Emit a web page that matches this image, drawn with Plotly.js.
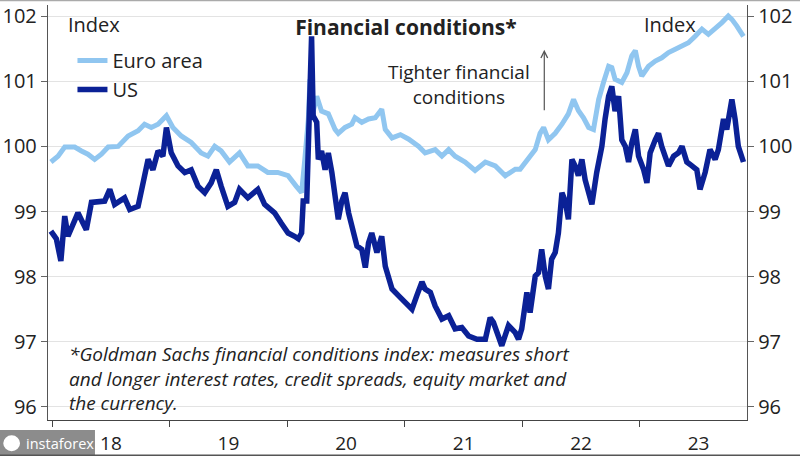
<!DOCTYPE html>
<html>
<head>
<meta charset="utf-8">
<script src="https://cdn.plot.ly/plotly-3.0.1.min.js"></script>
<style>html,body{margin:0;padding:0;background:#fff;}#chart{width:800px;height:456px;}</style>
</head>
<body>
<div id="chart"></div>
<script>
// Time as decimal years, values = index level
const euroT = [2017.99,2018.051,2018.108,2018.193,2018.250,2018.306,2018.363,2018.420,2018.477,2018.562,2018.647,2018.732,2018.789,2018.845,2018.902,2018.973,2019.030,2019.101,2019.186,2019.271,2019.328,2019.384,2019.441,2019.512,2019.597,2019.668,2019.753,2019.838,2019.923,2020.009,2020.079,
2020.125,2020.153,2020.182,2020.196,2020.224,2020.253,2020.295,2020.352,2020.409,2020.437,2020.494,2020.550,2020.579,2020.636,2020.692,2020.749,2020.806,2020.834,2020.891,2020.962,2021.033,2021.118,2021.174,2021.260,2021.316,2021.373,2021.430,2021.515,2021.600,2021.685,2021.770,2021.855,2021.940,
2021.983,2022.026,2022.068,2022.111,2022.153,2022.182,2022.224,2022.281,2022.338,2022.394,2022.437,2022.479,2022.522,2022.565,2022.607,2022.650,2022.692,2022.735,2022.763,2022.791,2022.848,2022.891,2022.933,2022.962,2022.990,2023.018,2023.075,2023.132,2023.189,2023.245,2023.302,2023.359,2023.416,2023.472,2023.529,2023.586,2023.643,2023.699,2023.756,2023.784,2023.827,2023.884];
const euroV = [99.76,99.85,99.99,99.99,99.93,99.88,99.80,99.88,99.99,100.0,100.16,100.24,100.34,100.29,100.34,100.47,100.29,100.16,100.06,99.90,99.85,100.0,99.93,99.76,99.90,99.70,99.70,99.60,99.60,99.55,99.39,
99.29,99.80,100.42,101.03,100.54,100.77,100.54,100.50,100.26,100.20,100.29,100.34,100.44,100.37,100.42,100.44,100.57,100.26,100.13,100.18,100.11,100.0,99.90,99.95,99.85,99.95,99.85,99.76,99.63,99.76,99.70,99.55,99.65,
99.65,99.76,99.85,99.95,100.20,100.29,100.10,100.20,100.34,100.50,100.72,100.55,100.44,100.29,100.26,100.72,100.98,101.23,101.21,101.03,100.98,101.13,101.39,101.47,101.23,101.08,101.23,101.31,101.36,101.44,101.49,101.55,101.59,101.69,101.80,101.72,101.80,101.90,102.0,101.95,101.85,101.69];

const usT = [2017.99,2018.037,2018.074,2018.108,2018.136,2018.179,2018.221,2018.250,2018.292,2018.335,2018.391,2018.448,2018.491,2018.533,2018.618,2018.661,2018.732,2018.774,2018.817,2018.860,2018.902,2018.945,2018.973,2019.016,2019.072,2019.129,2019.186,2019.243,2019.299,2019.356,2019.399,2019.441,2019.498,2019.555,2019.597,2019.668,2019.753,2019.810,2019.895,2019.952,2020.009,2020.065,
2020.096,2020.125,2020.139,2020.167,2020.182,2020.196,2020.210,2020.224,2020.253,2020.267,2020.295,2020.323,2020.352,2020.380,2020.409,2020.437,2020.465,2020.494,2020.522,2020.550,2020.593,2020.636,2020.664,2020.692,2020.721,2020.763,2020.806,2020.834,2020.891,2020.948,2021.004,2021.061,2021.104,2021.146,2021.174,2021.217,2021.260,2021.316,2021.373,2021.430,2021.487,2021.543,2021.614,2021.685,2021.728,2021.756,2021.827,2021.884,2021.940,
2021.969,2021.997,2022.040,2022.068,2022.111,2022.139,2022.167,2022.196,2022.224,2022.252,2022.281,2022.309,2022.338,2022.366,2022.394,2022.423,2022.451,2022.479,2022.508,2022.536,2022.565,2022.593,2022.635,2022.678,2022.706,2022.735,2022.763,2022.791,2022.820,2022.848,2022.877,2022.905,2022.933,2022.962,2022.990,2023.033,2023.061,2023.089,2023.132,2023.160,2023.189,2023.245,2023.288,2023.330,2023.359,2023.401,2023.444,2023.487,2023.515,2023.557,2023.600,2023.643,2023.671,2023.713,2023.742,2023.784,2023.813,2023.841,2023.884];
const usV = [98.70,98.58,98.24,98.93,98.62,98.82,98.98,98.87,98.72,99.14,99.16,99.16,99.34,99.11,99.21,99.03,99.08,99.47,99.80,99.64,99.93,99.85,100.29,99.90,99.70,99.60,99.64,99.39,99.29,99.44,99.64,99.39,99.08,99.14,99.34,99.21,99.34,99.11,98.98,98.82,98.67,98.62,
98.58,98.67,99.16,99.16,99.93,101.23,101.69,100.47,100.37,99.80,99.93,99.64,99.90,99.60,99.29,98.88,99.16,99.29,98.98,98.78,98.47,98.42,98.14,98.52,98.67,98.37,98.62,98.16,97.81,97.71,97.61,97.50,97.71,97.92,97.81,97.76,97.55,97.35,97.40,97.20,97.22,97.09,97.04,97.04,97.37,97.30,96.94,97.25,97.14,
97.04,97.20,97.76,97.45,98.01,98.06,98.42,98.01,97.81,98.27,98.37,98.67,99.29,99.16,98.88,99.80,99.70,99.55,99.80,99.49,99.29,99.11,99.60,100.0,100.42,100.77,100.92,100.54,100.77,100.10,100.0,99.76,100.05,100.26,99.85,99.64,99.44,99.90,100.10,100.20,100.0,99.70,99.85,99.90,100.0,99.76,99.70,99.64,99.34,99.60,99.95,99.80,99.95,100.42,100.26,100.72,100.42,100.0,99.76];

const yTicks = [96, 97, 98, 99, 100, 101, 102];
const seriesNames = ['Euro area', 'US'];
const footLines = ['*Goldman Sachs financial conditions index: measures short',
                   'and longer interest rates, credit spreads, equity market and',
                   'the currency.'];
const noteLines = ['Tighter financial', 'conditions'];

function toDate(t) {
  const y = Math.floor(t);
  const s = Date.UTC(y, 0, 1), e = Date.UTC(y + 1, 0, 1);
  return new Date(s + (t - y) * (e - s)).toISOString().slice(0, 10);
}

const FONT = '"Open Sans", "DejaVu Sans", sans-serif';
const TXT = '#222222';
const FS = 20;

const traces = [
  {x: euroT.map(toDate), y: euroV, name: seriesNames[0], type: 'scatter', mode: 'lines',
   line: {color: '#90c6f0', width: 5}, yaxis: 'y', hoverinfo: 'skip'},
  {x: usT.map(toDate), y: usV, name: seriesNames[1], type: 'scatter', mode: 'lines',
   line: {color: '#0b2196', width: 5.5}, yaxis: 'y2', hoverinfo: 'skip'}
];

const annotations = [
  {text: 'Index', xref: 'paper', yref: 'paper', x: 0.0258, y: 0.954, xanchor: 'left', yanchor: 'middle',
   showarrow: false, font: {family: FONT, size: FS, color: TXT}},
  {text: 'Index', xref: 'paper', yref: 'paper', x: 0.930, y: 0.954, xanchor: 'right', yanchor: 'middle',
   showarrow: false, font: {family: FONT, size: FS, color: TXT}},
  {text: '', xref: 'paper', yref: 'paper', x: 0.710, y: 0.892, ax: 0, ay: 62, axref: 'pixel', ayref: 'pixel',
   showarrow: true, arrowhead: 5, arrowsize: 1.1, arrowwidth: 1.2, arrowcolor: '#555'},
  {text: noteLines.join('<br>'), xref: 'paper', yref: 'paper', x: 0.588, y: 0.809,
   xanchor: 'center', yanchor: 'middle', align: 'center', showarrow: false,
   font: {family: FONT, size: 19, color: TXT}},
  {text: '<i>' + footLines.join('<br>') + '</i>', xref: 'paper', yref: 'paper', x: 0.027, y: 0.100,
   xanchor: 'left', yanchor: 'middle', align: 'left', showarrow: false,
   font: {family: FONT, size: 19, color: TXT}},
  {text: 'instaforex', xref: 'paper', yref: 'paper', x: -0.0343, y: -0.056, xanchor: 'left', yanchor: 'middle',
   showarrow: false, font: {family: FONT, size: 14.5, color: '#ffffff'}}
];

const yr = [95.8, 102.17];
const layout = {
  width: 800, height: 456,
  margin: {l: 48, r: 53, t: 5, b: 36, pad: 0},
  paper_bgcolor: '#ffffff', plot_bgcolor: '#ffffff',
  font: {family: FONT, size: FS, color: TXT},
  showlegend: true,
  legend: {x: 0.035, y: 0.913, xanchor: 'left', yanchor: 'top', bgcolor: 'rgba(0,0,0,0)',
           font: {family: FONT, size: FS, color: TXT}, tracegroupgap: 0, itemwidth: 30},
  title: {text: '<b>Financial conditions*</b>', x: 0.512, xref: 'paper', xanchor: 'center',
          y: 0.939, yref: 'container', yanchor: 'middle', font: {family: FONT, size: 21, color: TXT}},
  xaxis: {type: 'date', range: ['2017-12-19', '2023-11-30'], tick0: '2018-01-01', dtick: 'M12',
          tickformat: '%y', ticklabelmode: 'period', ticks: 'outside', ticklen: 6, tickcolor: '#444',
          showline: true, linecolor: '#444', linewidth: 1.2, showgrid: false, zeroline: false,
          tickfont: {family: FONT, size: 19, color: TXT}},
  yaxis: {range: yr, tickvals: yTicks, ticks: 'outside', ticklen: 6, tickcolor: '#666',
          showline: true, linecolor: '#555', linewidth: 1.2, gridcolor: '#e3e3e3', gridwidth: 1,
          zeroline: false, tickfont: {family: FONT, size: 20, color: TXT}},
  yaxis2: {range: yr, tickvals: yTicks, overlaying: 'y', side: 'right', ticks: 'outside', ticklen: 6,
           tickcolor: '#666', showline: true, linecolor: '#555', linewidth: 1.2, showgrid: false,
           zeroline: false, tickfont: {family: FONT, size: 20, color: TXT}},
  annotations: annotations,
  shapes: [
    {type: 'rect', xref: 'paper', yref: 'paper', x0: -0.0687, x1: 0.0672, y0: -0.0867, y1: -0.024,
     fillcolor: '#8c8c8c', line: {width: 0}, layer: 'above'},
    {type: 'circle', xref: 'paper', yref: 'paper', x0: -0.064, x1: -0.040, y0: -0.075, y1: -0.037,
     fillcolor: '#ffffff', line: {width: 0}, layer: 'above'},
    {type: 'line', xref: 'paper', yref: 'paper', x0: -0.0687, x1: 1.076, y0: -0.0855, y1: -0.0855,
     line: {color: '#555', width: 2}},
    {type: 'line', xref: 'paper', yref: 'paper', x0: -0.0687, x1: 1.076, y0: 1.011, y1: 1.011,
     line: {color: '#aaa', width: 1.5}}
  ]
};

Plotly.newPlot('chart', traces, layout, {staticPlot: true, displayModeBar: false});
</script>
</body>
</html>
